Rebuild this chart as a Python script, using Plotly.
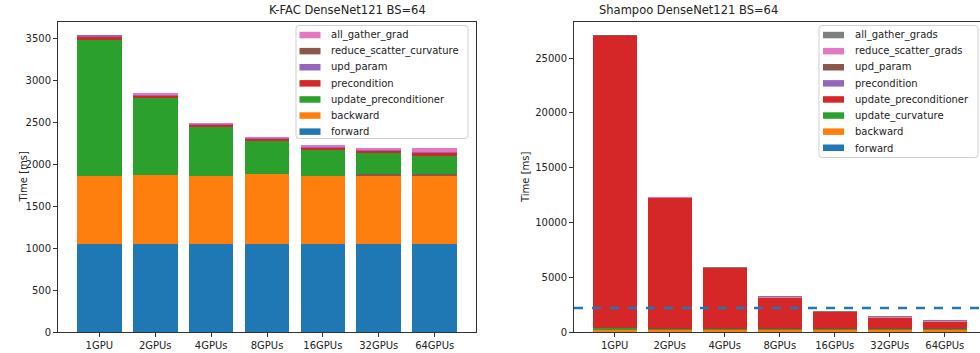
import plotly.graph_objects as go

# GPU counts shared by both panels
categories = ["1GPU", "2GPUs", "4GPUs", "8GPUs", "16GPUs", "32GPUs", "64GPUs"]

# K-FAC DenseNet121 BS=64, time per step [ms]
kfac_forward = [1050, 1050, 1050, 1050, 1050, 1050, 1050]
kfac_backward = [810, 820, 810, 830, 810, 815, 810]
kfac_reduce_scatter_curvature = [0, 0, 0, 0, 0, 15, 20]
kfac_update_preconditioner = [1615, 925, 583, 397, 309, 251, 219]
kfac_precondition = [48, 25, 25, 25, 25, 30, 40]
kfac_upd_param = [12, 15, 15, 15, 15, 15, 10]
kfac_all_gather_grad = [0, 5, 5, 5, 10, 20, 40]

# Shampoo DenseNet121 BS=64, time per step [ms]
sh_forward = [40, 40, 40, 40, 40, 40, 40]
sh_backward = [200, 200, 200, 190, 190, 190, 190]
sh_update_curvature = [170, 60, 60, 40, 30, 30, 30]
sh_update_preconditioner = [26620, 11945, 5560, 2905, 1625, 1095, 725]
sh_precondition = [5, 5, 5, 5, 5, 5, 5]
sh_upd_param = [5, 5, 5, 5, 5, 5, 5]
sh_reduce_scatter_grads = [0, 5, 5, 10, 10, 20, 25]
sh_all_gather_grads = [0, 0, 5, 5, 5, 10, 10]

# reference level drawn across the Shampoo panel (K-FAC best step time)
kfac_reference_ms = 2200

BLUE, ORANGE, GREEN, RED = "#1f77b4", "#ff7f0e", "#2ca02c", "#d62728"
PURPLE, BROWN, PINK, GRAY = "#9467bd", "#8c564b", "#e377c2", "#7f7f7f"

W, H = 980, 353
TOP, BOTTOM = 22, 21
PLOT_H = H - TOP - BOTTOM
FONT = "DejaVu Sans"
TEXT = "#222"


def px_x(px):
    return px / W


def px_y(py):
    return (H - BOTTOM - py) / PLOT_H


fig = go.Figure()

# stacking order (bottom to top), legend rows listed separately (top row first)
kfac_series = [
    ("forward", kfac_forward, BLUE),
    ("backward", kfac_backward, ORANGE),
    ("reduce_scatter_curvature", kfac_reduce_scatter_curvature, BROWN),
    ("update_preconditioner", kfac_update_preconditioner, GREEN),
    ("precondition", kfac_precondition, RED),
    ("upd_param", kfac_upd_param, PURPLE),
    ("all_gather_grad", kfac_all_gather_grad, PINK),
]
kfac_legend_rows = ["all_gather_grad", "reduce_scatter_curvature", "upd_param",
                    "precondition", "update_preconditioner", "backward", "forward"]

sh_series = [
    ("forward", sh_forward, BLUE),
    ("backward", sh_backward, ORANGE),
    ("update_curvature", sh_update_curvature, GREEN),
    ("update_preconditioner", sh_update_preconditioner, RED),
    ("precondition", sh_precondition, PURPLE),
    ("upd_param", sh_upd_param, BROWN),
    ("reduce_scatter_grads", sh_reduce_scatter_grads, PINK),
    ("all_gather_grads", sh_all_gather_grads, GRAY),
]
sh_legend_rows = ["all_gather_grads", "reduce_scatter_grads", "upd_param", "precondition",
                  "update_preconditioner", "update_curvature", "backward", "forward"]

for series, xa, ya in ((kfac_series, "x", "y"), (sh_series, "x2", "y2")):
    for name, vals, color in series:
        fig.add_trace(go.Bar(
            x=categories, y=vals, name=name, marker_color=color,
            marker_line_width=0, width=0.8, xaxis=xa, yaxis=ya, showlegend=False,
        ))

shapes = []
annotations = []

# dashed horizontal reference across the Shampoo axes
shapes.append(dict(
    type="line", xref="x2 domain", x0=0, x1=1, yref="y2",
    y0=kfac_reference_ms, y1=kfac_reference_ms,
    line=dict(color=BLUE, width=2.5, dash="dash"), layer="above",
))


def rounded_box(x0, y0, x1, y1, r=3):
    """Rounded rectangle path in paper coordinates from pixel corners."""
    X, Y = px_x, px_y
    pts = [
        f"M {X(x0 + r)} {Y(y0)}",
        f"L {X(x1 - r)} {Y(y0)}",
        f"Q {X(x1)} {Y(y0)} {X(x1)} {Y(y0 + r)}",
        f"L {X(x1)} {Y(y1 - r)}",
        f"Q {X(x1)} {Y(y1)} {X(x1 - r)} {Y(y1)}",
        f"L {X(x0 + r)} {Y(y1)}",
        f"Q {X(x0)} {Y(y1)} {X(x0)} {Y(y1 - r)}",
        f"L {X(x0)} {Y(y0 + r)}",
        f"Q {X(x0)} {Y(y0)} {X(x0 + r)} {Y(y0)}",
        "Z",
    ]
    return " ".join(pts)


def add_legend(series, rows, box, first_row_y, patch_x, text_x, row_step=16.1):
    colors = {name: color for name, _, color in series}
    x0, y0, x1, y1 = box
    shapes.append(dict(
        type="path", xref="paper", yref="paper", path=rounded_box(x0, y0, x1, y1),
        fillcolor="rgba(255,255,255,0.8)", line=dict(color="#d0d0d0", width=1),
        layer="above",
    ))
    for i, name in enumerate(rows):
        cy = first_row_y + i * row_step
        shapes.append(dict(
            type="rect", xref="paper", yref="paper",
            x0=px_x(patch_x), x1=px_x(patch_x + 21),
            y0=px_y(cy + 3), y1=px_y(cy - 3.5),
            fillcolor=colors[name], line=dict(width=0), layer="above",
        ))
        annotations.append(dict(
            text=name, xref="paper", yref="paper", x=px_x(text_x), y=px_y(cy),
            xanchor="left", yanchor="middle", showarrow=False,
            font=dict(family=FONT, size=10, color=TEXT),
        ))


add_legend(kfac_series, kfac_legend_rows, (296, 25.5, 468, 138.5), 35.3, 299.5, 329)
add_legend(sh_series, sh_legend_rows, (819, 25.5, 978, 157.5), 35.3, 823, 852.5)

axis_common = dict(
    showgrid=False, zeroline=False, showline=True, linecolor="#333",
    linewidth=1, ticks="outside", ticklen=4, tickcolor="#333",
    tickfont=dict(family=FONT, size=10, color=TEXT),
)

left_dom = [58 / W, 476 / W]
right_dom = [574 / W, 1.0]

annotations += [
    dict(text="K-FAC DenseNet121 BS=64", xref="paper", yref="paper",
         x=(left_dom[0] + left_dom[1]) / 2, y=1, yanchor="bottom", yshift=3,
         showarrow=False, font=dict(family=FONT, size=11.5, color=TEXT)),
    dict(text="Shampoo DenseNet121 BS=64", xref="paper", yref="paper",
         x=(574 + 985) / 2 / W, y=1, yanchor="bottom", yshift=3,
         showarrow=False, font=dict(family=FONT, size=11.5, color=TEXT)),
    dict(text="Time [ms]", xref="paper", yref="paper", x=15 / W, y=0.5,
         textangle=-90, showarrow=False, font=dict(family=FONT, size=10, color=TEXT)),
    dict(text="Time [ms]", xref="paper", yref="paper", x=525 / W, y=0.5,
         textangle=-90, showarrow=False, font=dict(family=FONT, size=10, color=TEXT)),
]

fig.update_layout(
    width=W, height=H,
    margin=dict(l=0, r=0, t=TOP, b=BOTTOM),
    barmode="stack",
    plot_bgcolor="white", paper_bgcolor="white",
    font=dict(family=FONT, size=10, color=TEXT),
    showlegend=False,
    xaxis=dict(domain=left_dom, range=[-0.74, 6.74], mirror=True, anchor="y", **axis_common),
    yaxis=dict(domain=[0, 1], range=[0, 3695], dtick=500, mirror=True, anchor="x", **axis_common),
    xaxis2=dict(domain=right_dom, range=[-0.74, 6.64], mirror=True, anchor="y2", **axis_common),
    yaxis2=dict(domain=[0, 1], range=[0, 28300], dtick=5000, tickformat="d",
                mirror=False, anchor="x2", **axis_common),
    shapes=shapes,
    annotations=annotations,
)

fig.write_html("out.html")
